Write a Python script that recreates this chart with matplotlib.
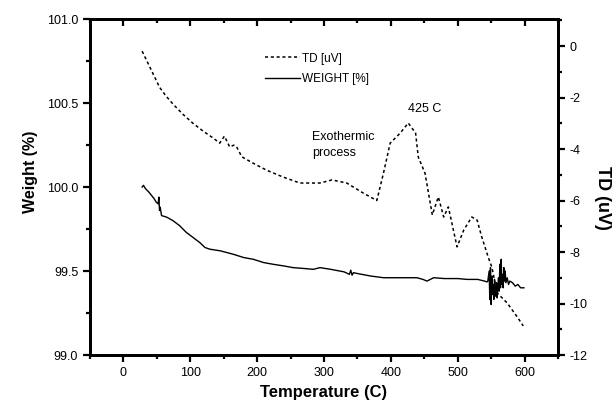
import numpy as np
import matplotlib
matplotlib.use("Agg")
import matplotlib.pyplot as plt
from matplotlib.ticker import MultipleLocator, FormatStrFormatter

plt.rcParams['font.family'] = ['Liberation Sans', 'DejaVu Sans']
plt.rcParams['axes.unicode_minus'] = False

# TD signal (uV)
td_temp = [28, 42, 54, 64, 74, 89, 104, 119, 134, 144, 151, 159, 165, 169, 177,
           194, 214, 239, 264, 294, 312, 334, 358, 379, 389, 399, 414, 426,
           437, 441, 451, 462, 471, 479, 486, 499, 509, 521, 529, 536, 546,
           551, 559, 574, 589, 598]
td_uv = [-0.2, -0.95, -1.6, -1.95, -2.25, -2.65, -3.0, -3.3, -3.57, -3.77, -3.5,
         -3.92, -3.85, -3.9, -4.3, -4.55, -4.82, -5.09, -5.32, -5.32, -5.2,
         -5.32, -5.7, -6.0, -4.93, -3.77, -3.38, -2.99, -3.38, -4.31, -4.93,
         -6.56, -5.86, -6.64, -6.25, -7.8, -7.15, -6.64, -6.76, -7.42, -8.23,
         -8.58, -9.59, -9.98, -10.52, -10.87]

# weight (%)
wt_temp = [28, 30, 33, 38, 42, 46, 49, 52, 53, 54, 55, 57, 65, 74, 84, 94, 104,
           114, 122, 129, 145, 164, 180, 194, 210, 224, 240, 254, 270, 284,
           294, 310, 330, 338, 340, 342, 344, 350, 370, 389, 410, 439, 448,
           454, 464, 480, 500, 514, 530, 540, 544,
           545, 547, 548, 549, 550, 551, 552, 553, 554, 555, 556, 557, 558,
           559, 560, 561, 562, 563, 564, 565, 566, 567, 568, 569, 570, 571,
           572, 574, 576, 578, 582, 586, 590, 594, 599]
wt_pct = [100.0, 100.01, 99.99, 99.97, 99.95, 99.93, 99.91, 99.9, 99.94, 99.86,
          99.88, 99.83, 99.82, 99.80, 99.77, 99.73, 99.70, 99.67, 99.64, 99.63,
          99.62, 99.60, 99.58, 99.57, 99.55, 99.54, 99.53, 99.52, 99.515,
          99.51, 99.52, 99.51, 99.495, 99.48, 99.505, 99.475, 99.49, 99.485,
          99.47, 99.46, 99.46, 99.46, 99.45, 99.44, 99.46, 99.455, 99.455,
          99.45, 99.45, 99.44, 99.435,
          99.44, 99.50, 99.33, 99.52, 99.30, 99.47, 99.36, 99.42, 99.33, 99.45,
          99.38, 99.35, 99.43, 99.34, 99.40, 99.46, 99.38, 99.54, 99.40, 99.57,
          99.42, 99.48, 99.40, 99.52, 99.44, 99.50, 99.43, 99.46, 99.42, 99.44,
          99.43, 99.41, 99.42, 99.40, 99.40]

fig = plt.figure(figsize=(6.13, 4.08), dpi=100)
ax = fig.add_axes([0.1468, 0.1299, 0.7635, 0.8235])
ax2 = ax.twinx()

ax.plot(wt_temp, wt_pct, color='black', lw=1.0, label='WEIGHT [%]')
ax2.plot(td_temp, td_uv, color='black', lw=1.1, linestyle=(0, (2, 1.8)),
         label='TD [uV]')

ax.set_xlim(-50, 650)
ax.set_ylim(99.0, 101.0)
ax2.set_ylim(-12, 1.05)

ax.set_xticks([0, 100, 200, 300, 400, 500, 600])
ax.xaxis.set_minor_locator(MultipleLocator(50))
ax.yaxis.set_major_locator(MultipleLocator(0.5))
ax.yaxis.set_minor_locator(MultipleLocator(0.25))
ax.yaxis.set_major_formatter(FormatStrFormatter('%.1f'))
ax2.yaxis.set_major_locator(MultipleLocator(2))
ax2.yaxis.set_minor_locator(MultipleLocator(1))

for a in (ax, ax2):
    for s in a.spines.values():
        s.set_linewidth(2)
    a.tick_params(axis='both', which='both', direction='out', width=1.6,
                  labelsize=9)
    a.tick_params(which='major', length=5)
    a.tick_params(which='minor', length=3)
ax.tick_params(axis='x', which='both', top=True)
# top ticks point inward
for t in ax.xaxis.get_major_ticks() + ax.xaxis.get_minor_ticks():
    t.tick2line.set_marker(matplotlib.markers.TICKDOWN)

fig.text(324 / 613, 1 - 393 / 408, 'Temperature (C)', fontsize=12,
         fontweight='bold', ha='center', va='center')
fig.text(30 / 613, 1 - 172 / 408, 'Weight (%)', fontsize=11.5,
         fontweight='bold', ha='center', va='center', rotation=90)
fig.text(603 / 613, 1 - 198 / 408, 'TD (uV)', fontsize=13,
         fontweight='bold', ha='center', va='center', rotation=-90)

h1, l1 = ax2.get_legend_handles_labels()
h2, l2 = ax.get_legend_handles_labels()
ax.legend(h1 + h2, l1 + l2, loc='upper left', bbox_to_anchor=(0.363, 0.914),
          frameon=False, fontsize=8.5, handlelength=3.0, handletextpad=0.2,
          labelspacing=0.75, borderaxespad=0)

ax2.text(451, -2.45, '425 C', fontsize=9, ha='center', va='center')
ax2.text(282, -3.84, 'Exothermic\nprocess', fontsize=9, ha='left',
         va='center', linespacing=1.45)

fig.savefig('out.png', dpi=100)
